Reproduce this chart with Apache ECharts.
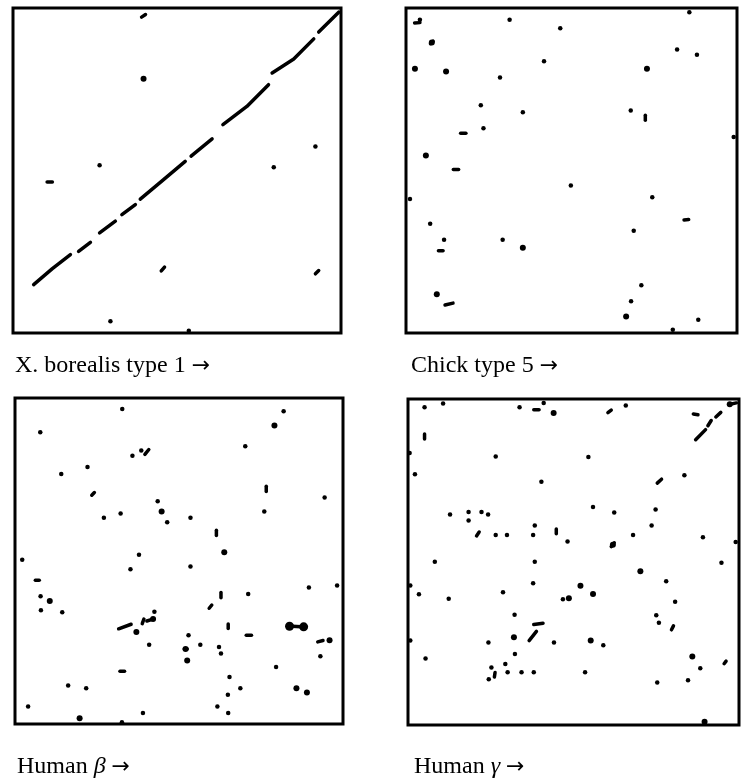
<!DOCTYPE html>
<html>
<head>
<meta charset="utf-8">
<script src="https://cdn.jsdelivr.net/npm/echarts@6/dist/echarts.min.js"></script>
<style>html,body{margin:0;padding:0;background:#fff;}#c{width:753px;height:779px;}</style>
</head>
<body>
<div id="c"></div>
<script>
// Panel titles (the sequence compared along the x direction)
const panelLabels = ['X. borealis type 1 {a|\u2192}', 'Chick type 5 {a|\u2192}', 'Human {g|\u03B2} {a|\u2192}', 'Human {g|\u03B3} {a|\u2192}'];

// Panel 1: X. borealis type 1 — main diagonal (runs of matches) and isolated matches
const p1Diagonal = [
  [[6.3,14.9],[12.0,19.8],[17.5,24.1]],
  [[20.0,25.1],[23.6,27.9]],
  [[26.4,30.8],[31.2,34.4]],
  [[33.2,36.4],[37.3,39.5]],
  [[38.8,41.2],[45.9,47.2],[52.5,52.8]],
  [[54.3,54.4],[60.7,59.7]],
  [[64.0,64.1],[71.3,69.7],[77.9,76.4]],
  [[79.0,80.0],[85.6,84.3],[91.7,90.5]],
  [[93.2,92.6],[99.3,98.7]]
];
const p1Dots = [[26.4,51.6],[79.5,51.0],[92.2,57.4],[29.7,3.6],[53.6,0.7]];
const p1Blobs = [[39.8,78.2]];
const p1Dashes = [
  [[39.2,97.2],[40.4,98.0]], [[10.4,46.5],[12.0,46.5]], [[45.2,19.1],[46.2,20.3]], [[92.2,18.2],[93.2,19.2]]
];

// Panel 2: Chick type 5
const p2Dots = [[4.2,96.4],[31.3,96.4],[46.6,93.8],[41.7,83.6],[81.9,87.2],[87.9,85.6],[28.4,78.6],[22.6,70.1],[35.3,67.9],[67.9,68.5],[23.4,63.0],[99.0,60.3],[49.8,45.4],[74.4,41.8],[7.3,33.6],[68.8,31.5],[11.5,28.7],[29.2,28.7],[71.1,14.7],[68.0,9.8],[88.3,4.1],[85.6,98.7],[80.6,1.0],[1.2,41.2]];
const p2Blobs = [[7.8,89.4],[2.7,81.3],[12.1,80.5],[72.8,81.3],[6.0,54.6],[35.3,26.2],[66.5,5.1],[9.3,11.9]];
const p2Dashes = [
  [[2.6,95.4],[4.2,95.5]], [[72.3,65.5],[72.3,67.0]], [[16.5,61.5],[18.1,61.5]], [[14.3,50.3],[15.9,50.3]],
  [[84.0,34.8],[85.4,34.9]], [[9.8,25.3],[11.2,25.3]], [[11.8,8.6],[14.2,9.2]], [[7.4,89.0],[8.2,89.8]]
];

// Panel 3: Human beta
const p3Dots = [[32.7,96.6],[81.9,95.9],[7.7,89.5],[70.2,85.2],[35.8,82.3],[38.5,83.9],[22.1,78.8],[14.1,76.7],[94.4,69.5],[43.5,68.3],[32.2,64.6],[27.1,63.3],[53.5,63.3],[46.4,61.9],[76.0,65.2],[37.8,51.9],[2.2,50.4],[53.5,48.3],[35.2,47.5],[7.8,39.2],[7.9,34.9],[14.4,34.3],[42.5,34.4],[71.1,39.9],[89.6,41.9],[98.2,42.5],[52.9,27.2],[40.9,24.3],[56.5,24.3],[62.2,23.6],[62.8,21.6],[93.1,20.8],[79.6,17.5],[65.4,14.4],[16.2,11.8],[21.7,11.0],[68.7,11.0],[64.9,9.0],[4.0,5.4],[61.7,5.4],[39.0,3.4],[65.0,3.4],[32.6,0.5]];
const p3Blobs = [[79.1,91.6],[10.6,37.7],[44.7,65.2],[63.8,52.7],[85.8,11.0],[89.0,9.7],[95.9,25.7],[52.5,19.5],[52.0,23.0],[19.7,1.8],[37.0,28.2],[42.1,32.2]];
const p3BigBlobs = [[83.7,30.0],[88.0,29.8]];
const p3Dashes = [
  [[39.6,82.7],[40.8,84.2]], [[23.4,70.2],[24.2,71.0]], [[76.6,71.3],[76.6,72.9]], [[61.4,57.8],[61.4,59.4]],
  [[62.8,38.7],[62.8,40.3]], [[59.2,35.5],[60.0,36.5]], [[31.6,29.2],[35.4,30.6]], [[38.8,30.8],[39.3,32.2]],
  [[40.2,31.6],[41.8,32.1]], [[65.0,29.3],[65.0,30.7]], [[70.5,27.2],[72.1,27.2]], [[32.0,16.2],[33.4,16.2]],
  [[92.3,25.2],[93.9,25.6]], [[6.2,44.1],[7.4,44.1]], [[84.5,30.0],[87.2,29.8]], [[51.6,23.0],[52.5,23.0]]
];

// Panel 4: Human gamma
const p4Dots = [[5.0,97.5],[10.6,98.6],[33.7,97.5],[41.0,98.8],[65.8,98.0],[0.5,83.4],[26.5,82.4],[54.5,82.2],[2.1,76.9],[40.3,74.6],[83.5,76.6],[12.7,64.6],[18.3,65.3],[22.2,65.3],[24.2,64.6],[18.3,62.7],[55.9,66.9],[62.3,65.2],[74.8,66.1],[38.3,61.2],[73.6,61.2],[26.5,58.3],[29.9,58.3],[37.8,58.3],[48.2,56.3],[68.0,58.3],[89.1,57.6],[99.0,56.1],[8.1,50.1],[38.3,50.1],[94.7,49.8],[78.0,44.1],[37.8,43.5],[0.7,42.8],[3.3,40.1],[28.7,40.7],[12.3,38.7],[46.8,38.6],[80.7,37.8],[32.2,33.8],[75.0,33.7],[75.8,31.4],[24.3,25.3],[44.1,25.3],[59.0,24.5],[0.7,25.9],[5.3,20.4],[32.3,21.8],[88.3,17.4],[29.4,18.7],[25.2,17.6],[24.4,14.0],[30.1,16.2],[34.3,16.2],[38.0,16.2],[53.5,16.2],[75.3,13.0],[84.6,13.7]];
const p4Blobs = [[44.0,95.7],[70.2,47.2],[61.9,55.3],[48.6,38.9],[55.9,40.2],[52.1,42.7],[32.0,26.9],[55.2,25.9],[85.9,21.0],[89.6,1.0],[97.2,98.4]];
const p4Dashes = [
  [[38.0,96.7],[39.6,96.7]], [[60.4,95.8],[61.4,96.6]], [[5.0,87.7],[5.0,89.3]], [[75.3,74.2],[76.6,75.4]],
  [[20.7,58.0],[21.5,59.2]], [[44.8,58.7],[44.8,60.1]], [[79.6,29.2],[80.2,30.4]], [[38.0,30.8],[40.8,31.2]],
  [[36.6,25.9],[38.8,28.7]], [[26.1,14.7],[26.3,16.1]], [[95.5,18.8],[96.1,19.6]], [[86.2,95.4],[87.6,95.2]],
  [[86.9,87.5],[89.9,90.6]], [[90.6,91.8],[91.6,93.4]], [[93.0,94.5],[94.5,95.9]], [[97.0,98.3],[99.2,98.8]],
  [[61.4,54.7],[62.3,55.9]]
];

const panels = [
  {dots: p1Dots, blobs: p1Blobs, big: [], dashes: p1Dashes, runs: p1Diagonal},
  {dots: p2Dots, blobs: p2Blobs, big: [], dashes: p2Dashes, runs: []},
  {dots: p3Dots, blobs: p3Blobs, big: p3BigBlobs, dashes: p3Dashes, runs: []},
  {dots: p4Dots, blobs: p4Blobs, big: [], dashes: p4Dashes, runs: []}
];

const gridBoxes = [
  {left: 13, top: 8, width: 328, height: 325},
  {left: 406, top: 8, width: 331, height: 325},
  {left: 15, top: 398, width: 328, height: 326},
  {left: 408, top: 399, width: 331, height: 326}
];
const labelPos = [[15, 353], [411, 353], [17, 754], [414, 754]];

const chart = echarts.init(document.getElementById('c'), null, {renderer: 'canvas'});
const grid = [], xAxis = [], yAxis = [], series = [], title = [];
const ink = {color: '#000', opacity: 1};
panels.forEach((p, i) => {
  grid.push(Object.assign({show: true, borderColor: '#000', borderWidth: 3, backgroundColor: 'transparent', containLabel: false}, gridBoxes[i]));
  xAxis.push({type: 'value', gridIndex: i, min: 0, max: 100, show: false});
  yAxis.push({type: 'value', gridIndex: i, min: 0, max: 100, show: false});
  series.push({type: 'scatter', xAxisIndex: i, yAxisIndex: i, data: p.dots, symbol: 'circle', symbolSize: 4.5, itemStyle: ink, silent: true, clip: false});
  series.push({type: 'scatter', xAxisIndex: i, yAxisIndex: i, data: p.blobs, symbol: 'circle', symbolSize: 6, itemStyle: ink, silent: true, clip: false});
  if (p.big.length) series.push({type: 'scatter', xAxisIndex: i, yAxisIndex: i, data: p.big, symbol: 'circle', symbolSize: 9, itemStyle: ink, silent: true, clip: false});
  series.push({type: 'lines', coordinateSystem: 'cartesian2d', xAxisIndex: i, yAxisIndex: i, polyline: true,
    data: p.dashes.map(c => ({coords: c})), lineStyle: {color: '#000', width: 3.5, opacity: 1, cap: 'round'}, silent: true});
  if (p.runs.length) series.push({type: 'lines', coordinateSystem: 'cartesian2d', xAxisIndex: i, yAxisIndex: i, polyline: true,
    data: p.runs.map(c => ({coords: c})), lineStyle: {color: '#000', width: 3.5, opacity: 1, cap: 'round', join: 'round'}, silent: true});
  title.push({text: panelLabels[i], left: labelPos[i][0], top: labelPos[i][1], padding: 0,
    textStyle: {fontFamily: 'Liberation Serif', fontSize: 24, lineHeight: 26, fontWeight: 'normal', color: '#000',
      rich: {
        g: {fontFamily: 'Liberation Serif', fontSize: 24, lineHeight: 26, fontStyle: 'italic', color: '#000'},
        a: {fontFamily: 'DejaVu Sans', fontSize: 22, lineHeight: 26, color: '#000'}
      }}});
});
chart.setOption({animation: false, backgroundColor: '#fff', grid, xAxis, yAxis, series, title});
</script>
</body>
</html>
